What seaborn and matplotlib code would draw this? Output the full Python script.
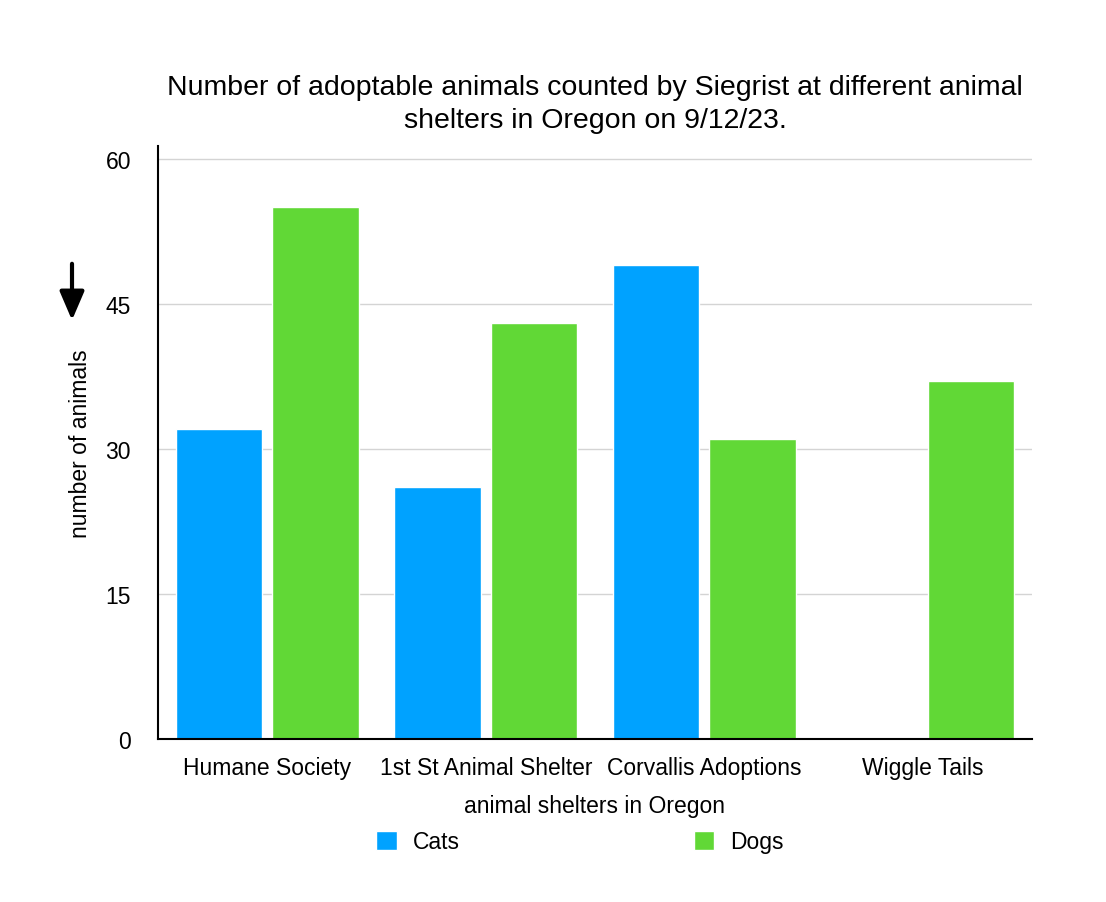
import pandas as pd
import seaborn as sns
import matplotlib.pyplot as plt

shelters = ["Humane Society", "1st St Animal Shelter", "Corvallis Adoptions", "Wiggle Tails"]
cats = [32, 26, 49, 0]
dogs = [55, 43, 31, 37]

df = pd.DataFrame({
    "shelter": shelters * 2,
    "animal": ["Cats"] * 4 + ["Dogs"] * 4,
    "count": cats + dogs,
})

sns.set_style("white")
plt.rcParams['font.family'] = ['Liberation Sans', 'DejaVu Sans']
plt.rcParams['text.color'] = 'black'
plt.rcParams['axes.labelcolor'] = 'black'
plt.rcParams['xtick.color'] = 'black'
plt.rcParams['ytick.color'] = 'black'

fig = plt.figure(figsize=(11.06, 9.03), dpi=100)
ax = fig.add_axes([158 / 1106, 1 - 740 / 903, (1032 - 158) / 1106, (740 - 147) / 903])

sns.barplot(data=df, x="shelter", y="count", hue="animal", order=shelters,
            palette={"Cats": "#00A2FF", "Dogs": "#61D836"},
            width=0.88, gap=0.1, saturation=1, ax=ax, legend=True)

ax.set_ylim(0, 61.3)
ax.set_xlim(-0.5, 3.5)
ax.set_yticks([0, 15, 30, 45, 60])
ax.yaxis.grid(True, color="#d4d4d4", linewidth=1)
ax.set_axisbelow(True)
for s in ["top", "right"]:
    ax.spines[s].set_visible(False)
for s in ["left", "bottom"]:
    ax.spines[s].set_color("black")
    ax.spines[s].set_linewidth(1.5)
ax.tick_params(axis="y", length=0, pad=19.5, labelsize=16.5)
ax.tick_params(axis="x", length=0, pad=12, labelsize=16.5)

ax.set_xlabel("animal shelters in Oregon", fontsize=16.5, labelpad=11)
ax.set_ylabel("number of animals", fontsize=16.5, labelpad=9.5)
ax.set_title("Number of adoptable animals counted by Siegrist at different animal\nshelters in Oregon on 9/12/23.",
             fontsize=20.5, pad=13.5, linespacing=1.35)

ax.get_legend().remove()
handles, labels = ax.get_legend_handles_labels()
fig.legend(handles, labels, loc="center", bbox_to_anchor=(580 / 1106, 1 - 843 / 903),
           ncol=2, frameon=False, fontsize=16.5, columnspacing=10.2, handlelength=0.9,
           handleheight=0.9, handletextpad=0.7)

ax.annotate("", xy=(72, 903 - 324), xytext=(72, 903 - 262),
            xycoords="figure pixels", textcoords="figure pixels",
            arrowprops=dict(arrowstyle="-|>,head_length=0.7,head_width=0.3",
                            color="black", lw=3, mutation_scale=25))

fig.savefig("out.png", dpi=100)
